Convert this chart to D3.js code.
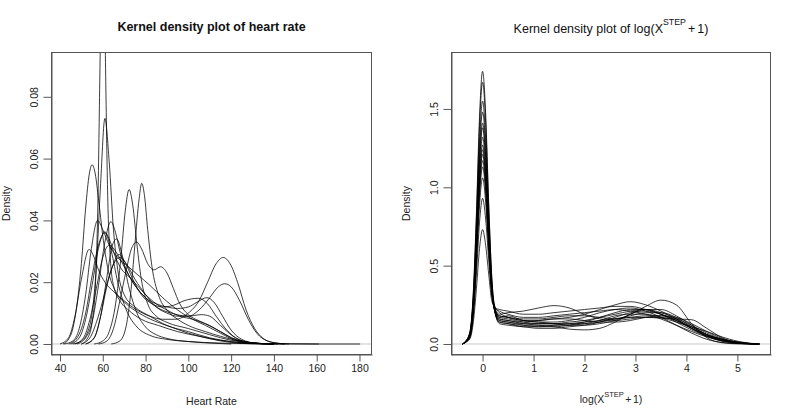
<!DOCTYPE html>
<html><head><meta charset="utf-8">
<script src="https://cdn.jsdelivr.net/npm/d3@7"></script>
<style>body{margin:0;background:#fff}svg{display:block}</style>
</head><body>
<svg id="chart" width="798" height="420"></svg>
<script>
// ---------- data: left panel (heart rate, density) ----------
const hrTicks = [40, 60, 80, 100, 120, 140, 160, 180];
const hrDensityTicks = [0, 0.02, 0.04, 0.06, 0.08];
const heartRateCurves = [
  [[41.4,0],[44,0.0015],[46,0.005],[48,0.013],[50,0.026],[52,0.044],[53.7,0.055],[55,0.058],[56.5,0.055],[58,0.047],[60,0.035],[62.5,0.024],[66,0.017],[71,0.013],[77,0.010],[84,0.0075],[92,0.0055],[100,0.0035],[110,0.0018],[120,0.0007],[135,0.0001],[160,0],[180.3,0]],
  [[50,0],[53,0.002],[55,0.007],[56.5,0.018],[57.7,0.045],[58.6,0.085],[59.3,0.118],[60,0.135],[60.7,0.118],[61.4,0.085],[62.3,0.048],[63.5,0.028],[65,0.019],[68,0.014],[72,0.011],[78,0.008],[86,0.006],[95,0.004],[105,0.0025],[115,0.001],[125,0.0002],[135,0]],
  [[46,0],[50,0.001],[53,0.004],[55,0.010],[57,0.025],[59,0.052],[61,0.073],[63,0.059],[65,0.037],[67,0.024],[70,0.016],[75,0.012],[82,0.009],[90,0.006],[100,0.004],[110,0.002],[120,0.0008],[130,0.0002],[140,0]],
  [[56,0],[60,0.001],[63,0.004],[66,0.013],[68.5,0.028],[70.5,0.043],[72.3,0.050],[74,0.045],[76,0.032],[78,0.021],[81,0.013],[85,0.009],[90,0.007],[100,0.005],[110,0.003],[120,0.0012],[130,0.0003],[140,0]],
  [[64,0],[68,0.001],[71,0.006],[73,0.016],[75,0.032],[77,0.047],[78.2,0.052],[79.5,0.048],[81,0.037],[83,0.025],[86,0.016],[90,0.011],[95,0.008],[100,0.006],[108,0.004],[115,0.0025],[125,0.0008],[135,0.0001],[145,0]],
  [[58,0],[62,0.001],[65,0.005],[68,0.014],[71,0.024],[73.5,0.031],[75.8,0.033],[78,0.031],[81,0.026],[84,0.024],[87,0.025],[90,0.023],[93,0.018],[96,0.013],[100,0.0095],[105,0.0075],[110,0.006],[115,0.004],[120,0.002],[130,0.0004],[140,0]],
  [[42,0],[46,0.001],[49,0.005],[52,0.016],[54.5,0.030],[57.6,0.040],[60,0.037],[63,0.032],[67,0.028],[72,0.025],[77,0.022],[82,0.019],[88,0.015],[95,0.011],[102,0.008],[108,0.006],[115,0.0035],[122,0.0012],[132,0.0002],[142,0]],
  [[48,0],[52,0.002],[55,0.007],[58,0.019],[61,0.033],[63.8,0.0396],[66,0.036],[68,0.030],[71,0.024],[75,0.019],[80,0.015],[85,0.012],[92,0.010],[100,0.009],[106,0.0095],[110,0.009],[115,0.006],[122,0.002],[130,0.0004],[140,0]],
  [[45,0],[49,0.002],[52,0.008],[55,0.019],[58,0.031],[60.9,0.0363],[63,0.034],[66,0.028],[69,0.024],[72,0.022],[76,0.019],[80,0.016],[85,0.013],[90,0.011],[96,0.009],[102,0.008],[108,0.0065],[115,0.004],[122,0.0015],[130,0.0003],[140,0]],
  [[40,0],[44,0.002],[47,0.009],[50,0.021],[53.6,0.0306],[56,0.028],[58,0.024],[61,0.020],[65,0.017],[70,0.014],[76,0.011],[82,0.009],[88,0.008],[94,0.008],[100,0.010],[105,0.014],[109,0.020],[113,0.026],[116.3,0.028],[119.5,0.026],[123,0.020],[127,0.011],[131,0.005],[135,0.0018],[140,0.0004],[147,0]],
  [[50,0],[54,0.002],[57,0.007],[60,0.014],[63,0.022],[66,0.027],[68,0.028],[71,0.026],[75,0.021],[80,0.016],[85,0.012],[90,0.010],[95,0.009],[100,0.009],[105,0.011],[110,0.015],[114,0.0185],[117,0.0195],[120,0.0185],[124,0.014],[128,0.008],[132,0.0035],[137,0.001],[145,0]],
  [[47,0],[51,0.002],[54,0.008],[57,0.018],[60,0.028],[63,0.032],[66,0.030],[70,0.025],[75,0.019],[80,0.015],[85,0.013],[90,0.012],[95,0.0115],[100,0.012],[104,0.0135],[108.6,0.015],[112,0.0135],[116,0.009],[120,0.0045],[125,0.0015],[132,0.0002],[140,0]],
  [[52,0],[56,0.002],[59,0.009],[62,0.019],[65,0.026],[67.5,0.029],[70,0.027],[74,0.021],[78,0.016],[83,0.013],[88,0.012],[93,0.0125],[98,0.014],[104.7,0.0148],[109,0.013],[113,0.009],[118,0.0045],[124,0.0013],[132,0.0002],[140,0]],
  [[52,0],[56,0.002],[59,0.009],[62,0.022],[64.5,0.032],[66.5,0.034],[69,0.029],[72,0.019],[76,0.010],[80,0.0055],[85,0.003],[90,0.0018],[100,0.0008],[110,0.0003],[120,0]],
  [[44,0],[48,0.002],[52,0.010],[55,0.022],[58,0.032],[61,0.036],[64,0.030],[67,0.020],[71,0.011],[76,0.0055],[82,0.0028],[90,0.0015],[100,0.0008],[115,0.0003],[130,0.0001],[161,0]]
];

// ---------- data: right panel (log(X^STEP+1), density) ----------
const stepTicks = [0, 1, 2, 3, 4, 5];
const stepDensityTicks = [0, 0.5, 1.0, 1.5];
const stepGrid = [-0.39,-0.35,-0.25,-0.18,-0.12,-0.06,0,0.06,0.12,0.18,0.25,0.33,0.5,0.8,1.1,1.4,1.7,2.0,2.3,2.6,2.9,3.2,3.5,3.8,4.1,4.4,4.7,5.0,5.25,5.43];
const stepCurves = [
  [0,0.012,0.077,0.345,0.847,1.453,1.74,1.473,0.897,0.425,0.194,0.13,0.12,0.11,0.10,0.10,0.11,0.12,0.14,0.17,0.20,0.21,0.19,0.15,0.10,0.055,0.025,0.009,0.002,0],
  [0,0.012,0.073,0.331,0.813,1.394,1.67,1.414,0.873,0.427,0.217,0.16,0.15,0.13,0.12,0.11,0.095,0.09,0.10,0.14,0.19,0.22,0.22,0.18,0.12,0.06,0.025,0.008,0.002,0],
  [0,0.011,0.068,0.307,0.755,1.294,1.55,1.314,0.810,0.391,0.194,0.14,0.13,0.11,0.11,0.12,0.13,0.14,0.15,0.16,0.17,0.17,0.165,0.16,0.155,0.10,0.04,0.01,0.002,0],
  [0,0.011,0.065,0.293,0.721,1.236,1.48,1.256,0.776,0.377,0.191,0.14,0.13,0.12,0.12,0.12,0.12,0.13,0.15,0.18,0.19,0.19,0.17,0.14,0.11,0.08,0.045,0.018,0.005,0],
  [0,0.010,0.062,0.279,0.687,1.177,1.41,1.197,0.747,0.369,0.197,0.15,0.14,0.12,0.11,0.11,0.12,0.14,0.17,0.20,0.22,0.22,0.19,0.14,0.09,0.05,0.025,0.01,0.003,0],
  [0,0.010,0.061,0.273,0.672,1.152,1.38,1.172,0.732,0.363,0.196,0.15,0.14,0.13,0.13,0.13,0.14,0.15,0.17,0.19,0.21,0.22,0.20,0.16,0.10,0.05,0.018,0.005,0.001,0],
  [0,0.010,0.058,0.261,0.643,1.102,1.32,1.122,0.713,0.361,0.211,0.17,0.16,0.14,0.13,0.13,0.13,0.13,0.14,0.16,0.18,0.20,0.20,0.17,0.11,0.06,0.03,0.012,0.003,0],
  [0,0.010,0.056,0.251,0.618,1.060,1.27,1.080,0.688,0.351,0.209,0.17,0.18,0.15,0.14,0.13,0.12,0.12,0.13,0.15,0.19,0.24,0.28,0.25,0.13,0.04,0.008,0.001,0,0],
  [0,0.009,0.055,0.246,0.604,1.035,1.24,1.055,0.669,0.342,0.199,0.16,0.15,0.14,0.15,0.16,0.16,0.15,0.14,0.14,0.15,0.17,0.18,0.17,0.13,0.08,0.035,0.012,0.003,0],
  [0,0.009,0.053,0.240,0.589,1.010,1.21,1.030,0.669,0.360,0.233,0.20,0.17,0.15,0.14,0.14,0.15,0.17,0.20,0.22,0.23,0.21,0.17,0.12,0.07,0.03,0.01,0.003,0.0005,0],
  [0,0.009,0.051,0.232,0.570,0.977,1.17,0.997,0.640,0.340,0.213,0.18,0.17,0.16,0.16,0.17,0.18,0.18,0.17,0.16,0.17,0.18,0.18,0.16,0.12,0.07,0.03,0.01,0.002,0],
  [0,0.009,0.050,0.224,0.550,0.944,1.13,0.964,0.620,0.332,0.212,0.18,0.17,0.15,0.15,0.16,0.17,0.19,0.22,0.25,0.27,0.25,0.21,0.16,0.10,0.05,0.02,0.005,0.001,0],
  [0,0.008,0.047,0.210,0.516,0.885,1.06,0.905,0.591,0.324,0.218,0.19,0.20,0.21,0.23,0.245,0.23,0.19,0.16,0.15,0.16,0.17,0.17,0.15,0.11,0.06,0.025,0.008,0.002,0],
  [0,0.008,0.041,0.184,0.453,0.777,0.93,0.797,0.538,0.310,0.230,0.21,0.19,0.17,0.17,0.18,0.19,0.20,0.21,0.22,0.21,0.19,0.16,0.12,0.08,0.045,0.02,0.006,0.001,0],
  [0,0.007,0.032,0.145,0.356,0.610,0.73,0.630,0.446,0.277,0.230,0.22,0.21,0.19,0.19,0.20,0.21,0.22,0.23,0.24,0.24,0.22,0.19,0.15,0.10,0.06,0.03,0.012,0.003,0]
];

// ---------- drawing ----------
const svg = d3.select("#chart");
const FONT = "'Liberation Sans', Arial, Helvetica, sans-serif";

function panel(cfg) {
  const g = svg.append("g");
  const x = d3.scaleLinear().domain(cfg.xDomain).range([cfg.left, cfg.right]);
  const y = d3.scaleLinear().domain(cfg.yDomain).range([cfg.bottom, cfg.top]);

  const clipId = "clip" + cfg.id;
  svg.append("clipPath").attr("id", clipId).append("rect")
    .attr("x", cfg.left).attr("y", cfg.top)
    .attr("width", cfg.right - cfg.left).attr("height", cfg.bottom - cfg.top);

  // zero line
  g.append("line")
    .attr("x1", cfg.left).attr("x2", cfg.right)
    .attr("y1", y(0)).attr("y2", y(0))
    .attr("stroke", "#c8c8c8").attr("stroke-width", 1);

  const line = d3.line().x(d => x(d[0])).y(d => y(d[1])).curve(d3.curveMonotoneX);
  g.append("g").attr("clip-path", `url(#${clipId})`)
    .selectAll("path").data(cfg.curves).join("path")
    .attr("d", line)
    .attr("fill", "none").attr("stroke", "#000").attr("stroke-width", 0.85)
    .attr("stroke-opacity", 0.9);

  // box
  g.append("rect")
    .attr("x", cfg.left + 0.5).attr("y", cfg.top + 0.5)
    .attr("width", cfg.right - cfg.left - 1).attr("height", cfg.bottom - cfg.top - 1)
    .attr("fill", "none").attr("stroke", "#555").attr("stroke-width", 1);

  // x axis
  const xa = g.append("g").attr("transform", `translate(0,${cfg.bottom - 0.5})`)
    .call(d3.axisBottom(x).tickValues(cfg.xTicks).tickSize(7).tickSizeOuter(0)
      .tickPadding(3.5).tickFormat(d3.format("d")));
  xa.select(".domain").attr("stroke", "#555");
  xa.selectAll(".tick line").attr("stroke", "#555");
  xa.selectAll("text").attr("font-family", FONT).attr("font-size", 10.5).attr("fill", "#222");

  // y axis
  const ya = g.append("g").attr("transform", `translate(${cfg.left + 0.5},0)`)
    .call(d3.axisLeft(y).tickValues(cfg.yTicks).tickSize(8).tickSizeOuter(0)
      .tickFormat(d3.format(cfg.yFormat)));
  ya.select(".domain").attr("stroke", "#555");
  ya.selectAll(".tick line").attr("stroke", "#555");
  ya.selectAll("text")
    .attr("x", null).attr("dy", null).attr("text-anchor", "middle")
    .attr("transform", "translate(-14,0) rotate(-90)")
    .attr("font-family", FONT).attr("font-size", 10.5).attr("fill", "#222");

  // y label
  g.append("text")
    .attr("transform", `translate(${cfg.left - 41},${(cfg.top + cfg.bottom) / 2}) rotate(-90)`)
    .attr("text-anchor", "middle").attr("font-family", FONT).attr("font-size", 10.5)
    .attr("fill", "#222").text("Density");

  return { g, cx: (cfg.left + cfg.right) / 2 };
}

// left panel
const L = panel({
  id: "L", left: 51, right: 372, top: 52, bottom: 355,
  xDomain: [35.8, 185.85], yDomain: [-0.00356, 0.0945],
  curves: heartRateCurves, xTicks: hrTicks, yTicks: hrDensityTicks, yFormat: ".2f"
});
L.g.append("text").attr("x", L.cx).attr("y", 31).attr("text-anchor", "middle")
  .attr("font-family", FONT).attr("font-size", 12.5).attr("font-weight", "bold")
  .attr("fill", "#111").text("Kernel density plot of heart rate");
L.g.append("text").attr("x", L.cx).attr("y", 404.5).attr("text-anchor", "middle")
  .attr("font-family", FONT).attr("font-size", 10.5).attr("fill", "#222").text("Heart Rate");

// right panel
const stepData = stepCurves.map(vals => stepGrid.map((v, i) => [v, vals[i]]));
const R = panel({
  id: "R", left: 451, right: 771, top: 52, bottom: 355,
  xDomain: [-0.62, 5.66], yDomain: [-0.0702, 1.8634],
  curves: stepData, xTicks: stepTicks, yTicks: stepDensityTicks, yFormat: ".1f"
});

function mathLabel(sel, x, y, size, supSize, rise) {
  const t = sel.append("text").attr("x", x).attr("y", y).attr("text-anchor", "middle")
    .attr("font-family", FONT).attr("font-size", size).attr("fill", "#111");
  return t;
}
const rt = R.g.append("text").attr("x", R.cx).attr("y", 33).attr("text-anchor", "middle")
  .attr("font-family", FONT).attr("font-size", 12.5).attr("fill", "#111");
rt.append("tspan").text("Kernel density plot of log(X");
rt.append("tspan").attr("dy", -8).attr("font-size", 8.8).text("STEP");
rt.append("tspan").attr("dy", 8).attr("dx", 2).text("+");
rt.append("tspan").attr("dx", 2).text("1)");

const rx = R.g.append("text").attr("x", R.cx).attr("y", 403).attr("text-anchor", "middle")
  .attr("font-family", FONT).attr("font-size", 10.5).attr("fill", "#222");
rx.append("tspan").text("log(X");
rx.append("tspan").attr("dy", -6.5).attr("font-size", 7.5).text("STEP");
rx.append("tspan").attr("dy", 6.5).attr("dx", 1.5).text("+");
rx.append("tspan").attr("dx", 1.5).text("1)");
</script>
</body></html>
